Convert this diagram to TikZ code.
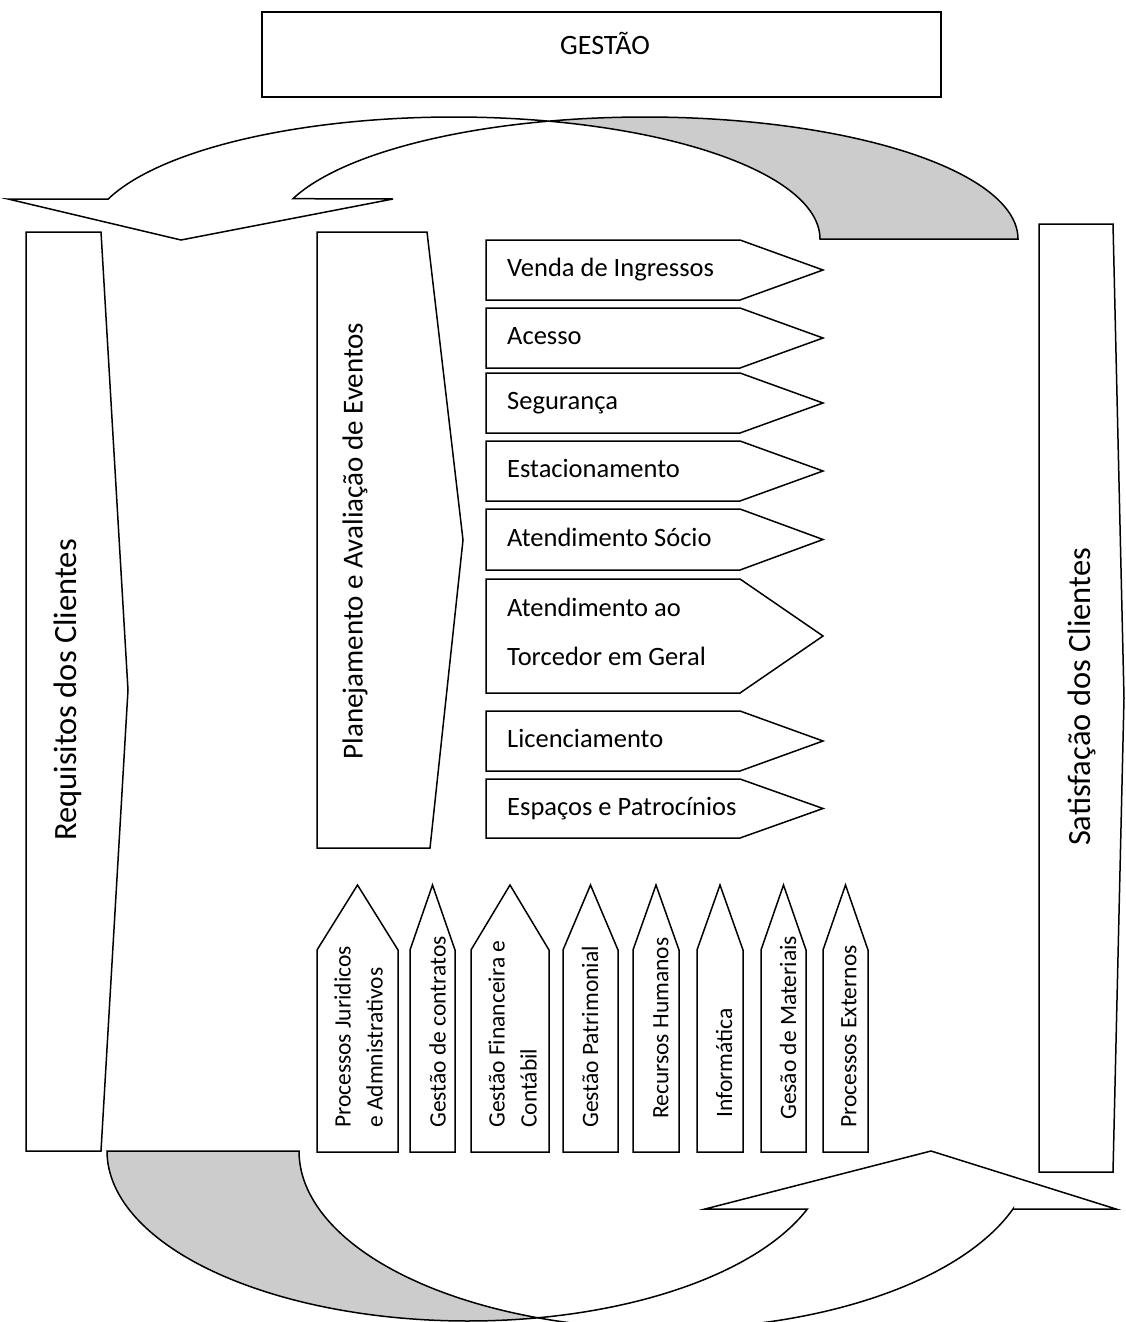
\documentclass[tikz,border=0pt]{standalone}
\usepackage{fontspec}
\setmainfont{Carlito}
\begin{document}
\begin{tikzpicture}[x=1pt,y=-1pt,
  outline/.style={draw=black,line width=1.5pt,line join=miter,fill=white},
  shaded/.style={draw=black,line width=1.5pt,line join=miter,fill=black!20},
  titletext/.style={font=\fontsize{28}{34}\selectfont,inner sep=0pt},
  sidetext/.style={font=\fontsize{32.5}{39}\selectfont,rotate=90,inner sep=0pt},
  plantext/.style={font=\fontsize{29}{35}\selectfont,rotate=90,inner sep=0pt},
  proctext/.style={font=\fontsize{26.5}{49}\selectfont,inner sep=0pt,align=left,anchor=base west},
  supporttext/.style={font=\fontsize{23.5}{32}\selectfont,rotate=90,inner sep=0pt,align=left,anchor=west}
]
\useasboundingbox (0,0) rectangle (1125,1322);

% management box
\draw[outline] (262,12) rectangle (941,97);
\node[titletext,anchor=base] (gestao) at (605,55) {GESTÃO};

% upper curved band: white arrow part and shaded back part
\draw[outline]
  plot[domain=160.9:75,samples=80,variable=\t] ({454+366*cos(\t)},{239-122*sin(\t)})
  -- plot[domain=105:160.7,samples=80,variable=\t] ({645+373*cos(\t)},{239-122*sin(\t)})
  -- (393,199) -- (181,240) -- (8,199) -- cycle;
\draw[shaded]
  plot[domain=75:0,samples=80,variable=\t] ({454+366*cos(\t)},{239-122*sin(\t)})
  -- (1018,239)
  -- plot[domain=0:105,samples=80,variable=\t] ({645+373*cos(\t)},{239-122*sin(\t)})
  -- cycle;

% side arrows
\draw[outline] (26,232) -- (101,232) -- (128,690) -- (101,1151) -- (26,1151) -- cycle;
\node[sidetext] (req) at (68,690) {Requisitos dos Clientes};

\draw[outline] (1039,224) -- (1113,224) -- (1124,698) -- (1113,1172) -- (1039,1172) -- cycle;
\node[sidetext] (sat) at (1082,697) {Satisfação dos Clientes};

\draw[outline] (317,232) -- (427,232) -- (463,540) -- (430,848) -- (317,848) -- cycle;
\node[plantext] (plan) at (355,541) {Planejamento e Avaliação de Eventos};

% main processes (pointing right)
\foreach \top/\bot/\name/\txt in {
  240/300/venda/{Venda de Ingressos},
  308/368/acesso/{Acesso},
  373/433/seg/{Segurança},
  441/501/estac/{Estacionamento},
  509/570/socio/{Atendimento Sócio},
  711/771/lic/{Licenciamento},
  779/838/esp/{Espaços e Patrocínios}}{
  \draw[outline] (486,\top) -- (740,\top) -- (823,{(\top+\bot)/2}) -- (740,\bot) -- (486,\bot) -- cycle;
  \node[proctext] (\name) at (507,{(\top+\bot)/2+6.5}) {\txt};
}
\draw[outline] (486,579) -- (740,579) -- (823,636) -- (740,693) -- (486,693) -- cycle;
% the base anchor of a two-line node sits on its last line
\node[proctext] (torcedor) at (507,665) {Atendimento ao\\Torcedor em Geral};

% support processes (pointing up)
\foreach \l/\r/\cx/\sy/\name/\txt in {
  317/398/358.5/1128/jur/{Processos Juridicos\\e Admnistrativos},
  410/455/437.5/1128/contr/{Gestão de contratos},
  471/549/512.5/1128/fin/{Gestão Financeira e\\Contábil},
  563/618/590/1128/patr/{Gestão Patrimonial},
  633/679/661/1119/rh/{Recursos Humanos},
  697/743/724/1118/inf/{Informática},
  761/806/788/1120/mat/{Gesão de Materiais},
  823/868/849/1128/ext/{Processos Externos}}{
  \draw[outline] (\l,1152) -- (\l,950) -- ({(\l+\r)/2},885) -- (\r,950) -- (\r,1152) -- cycle;
  \node[supporttext] (\name) at (\cx,\sy) {\txt};
}

% lower curved band: shaded back part and white arrow part
\draw[shaded]
  plot[domain=180:78.8,samples=80,variable=\t] ({468+361*cos(\t)},{1151+170*sin(\t)})
  -- plot[domain=110.4:180,samples=80,variable=\t] ({666+367*cos(\t)},{1151+178*sin(\t)})
  -- cycle;
\draw[outline]
  plot[domain=78.8:19.95,samples=80,variable=\t] ({468+361*cos(\t)},{1151+170*sin(\t)})
  -- (705,1209) -- (931,1151) -- (1116,1209) -- (1013,1209)
  -- plot[domain=19.0:110.4,samples=80,variable=\t] ({666+367*cos(\t)},{1151+178*sin(\t)})
  -- cycle;
\end{tikzpicture}
\end{document}
